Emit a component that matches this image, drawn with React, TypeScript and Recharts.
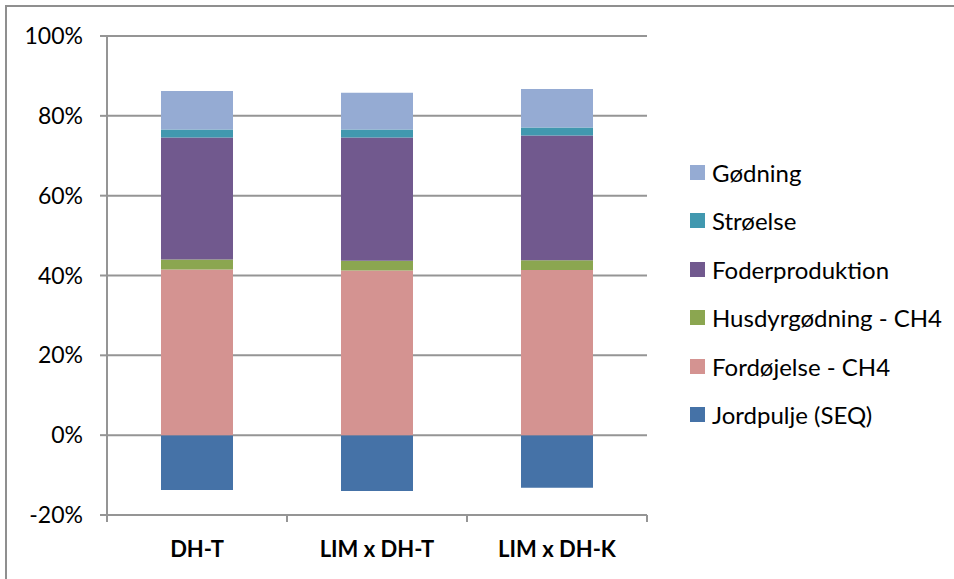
import { Bar, BarChart, CartesianGrid, XAxis, YAxis } from "recharts";

const CATEGORIES = ["DH-T", "LIM x DH-T", "LIM x DH-K"];

const JORDPULJE = [-13.75, -14.0, -13.2];
const FORDOJELSE = [41.5, 41.25, 41.4];
const HUSDYR = [2.5, 2.45, 2.4];
const FODER = [30.6, 30.9, 31.3];
const STROELSE = [2.0, 2.0, 2.0];
const GODNING = [9.6, 9.2, 9.65];

const Y_TICKS = [-20, 0, 20, 40, 60, 80, 100];

// stacking order: bottom first
const SERIES = [
  { key: "jord", name: "Jordpulje (SEQ)", values: JORDPULJE, color: "#4572a7" },
  { key: "ford", name: "Fordøjelse - CH4", values: FORDOJELSE, color: "#d49391" },
  { key: "husdyr", name: "Husdyrgødning - CH4", values: HUSDYR, color: "#8ba650" },
  { key: "foder", name: "Foderproduktion", values: FODER, color: "#71598e" },
  { key: "stro", name: "Strøelse", values: STROELSE, color: "#4198af" },
  { key: "god", name: "Gødning", values: GODNING, color: "#95abd3" },
];

const chartData = CATEGORIES.map((category, i) => {
  const row: Record<string, string | number> = { category };
  SERIES.forEach((s) => {
    row[s.key] = s.values[i];
  });
  return row;
});

const FONT = "Lato, 'Open Sans', sans-serif";
const GRID = "#959595";

// category label plus tick marks on the band edges (Excel style)
function CategoryTick(props: any) {
  const { x, y, payload, index } = props;
  const half = payload?.offset || 90;
  const last = index === CATEGORIES.length - 1;
  return (
    <g>
      <line x1={x - half} x2={x - half} y1={y} y2={y + 7} stroke={GRID} strokeWidth={2} />
      {last && (
        <line x1={x + half} x2={x + half} y1={y} y2={y + 7} stroke={GRID} strokeWidth={2} />
      )}
      <text
        x={x}
        y={y + 26}
        dy="0.71em"
        textAnchor="middle"
        fill="#000"
        fontSize={22}
        fontWeight={700}
        fontFamily={FONT}
      >
        {payload.value}
      </text>
    </g>
  );
}

function LegendList() {
  return (
    <div
      style={{
        position: "absolute",
        left: 690,
        top: 148,
        fontFamily: FONT,
        fontSize: 24,
        color: "#000",
      }}
    >
      {[...SERIES].reverse().map((s) => (
        <div
          key={s.key}
          style={{ height: 48.5, display: "flex", alignItems: "center" }}
        >
          <span
            style={{
              width: 15,
              height: 15,
              background: s.color,
              marginRight: 7,
              flexShrink: 0,
            }}
          />
          <span style={{ whiteSpace: "nowrap" }}>{s.name}</span>
        </div>
      ))}
    </div>
  );
}

export default function App() {
  return (
    <div
      style={{
        position: "absolute",
        left: 0,
        top: 0,
        width: 954,
        height: 579,
        overflow: "hidden",
        background: "#fff",
      }}
    >
      <div
        style={{
          position: "absolute",
          left: 5,
          top: 5,
          width: 1000,
          height: 700,
          borderLeft: "2px solid #8f8f8f",
          borderTop: "2px solid #8f8f8f",
        }}
      />
      <div style={{ position: "absolute", left: 0, top: 0 }}>
        <BarChart
          width={954}
          height={579}
          data={chartData}
          stackOffset="sign"
          barCategoryGap="30%"
          margin={{ top: 36, right: 307, bottom: 63, left: 0 }}
        >
          <CartesianGrid vertical={false} stroke={GRID} strokeWidth={2} />
          <XAxis
            dataKey="category"
            height={1}
            interval={0}
            tickLine={false}
            axisLine={{ stroke: GRID, strokeWidth: 2 }}
            tickSize={0}
            tickMargin={0}
            tick={<CategoryTick />}
          />
          <YAxis
            width={107}
            domain={[-20, 100]}
            ticks={Y_TICKS}
            allowDataOverflow
            tickFormatter={(v: number) => `${v}%`}
            tickSize={7}
            tickMargin={17}
            tickLine={{ stroke: GRID, strokeWidth: 2 }}
            axisLine={{ stroke: GRID, strokeWidth: 2 }}
            tick={{ fill: "#000", fontSize: 23, fontFamily: FONT }}
          />
          {SERIES.map((s) => (
            <Bar
              key={s.key}
              dataKey={s.key}
              name={s.name}
              stackId="a"
              fill={s.color}
              isAnimationActive={false}
            />
          ))}
        </BarChart>
      </div>
      <LegendList />
    </div>
  );
}
